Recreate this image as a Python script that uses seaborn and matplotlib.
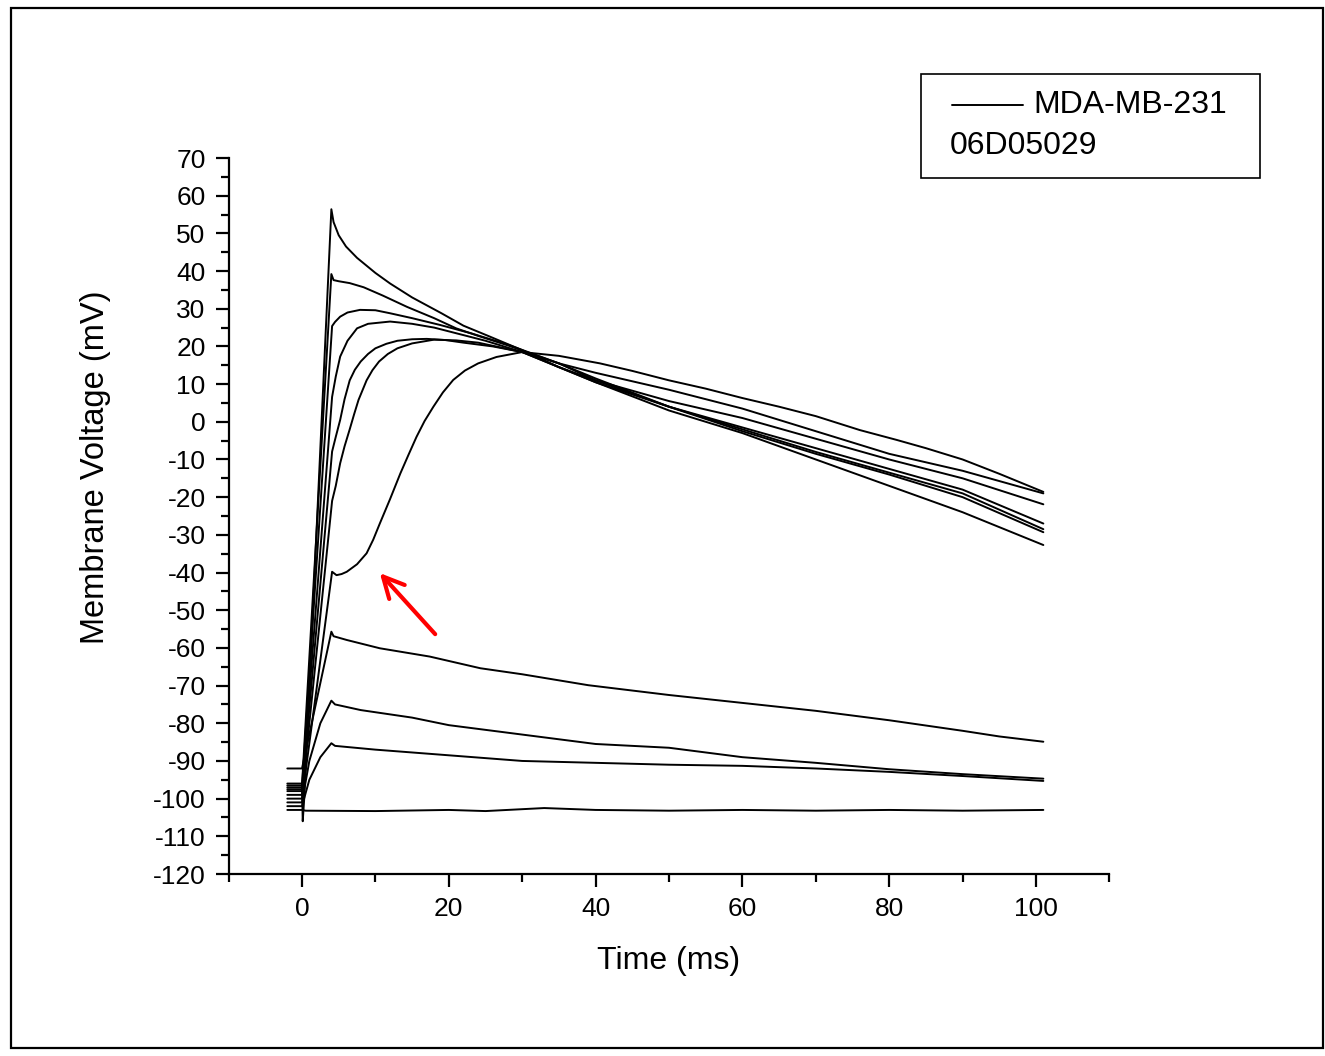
import matplotlib
matplotlib.use('Agg')
import matplotlib.pyplot as plt
from matplotlib.patches import Rectangle
from matplotlib.lines import Line2D
import pandas as pd
import seaborn as sns

# traces (time in ms, membrane voltage in mV)
a_t = [-2, 0, 0.1, 0.3, 4, 4.3, 5, 6, 7.5, 10, 12, 15, 19, 22, 25.6, 30, 35, 40, 50, 60, 70, 80, 90, 101]
a_v = [-96, -96, -106, -100, 56.4, 53, 49.5, 46.5, 43.5, 39.5, 36.7, 33, 28.8, 25.5, 22.6, 19, 14.5, 10.5, 3, -3, -10, -17, -24, -32.7]
b_t = [-2, 0, 4, 4.3, 5, 6.5, 8.4, 11, 14.3, 18, 21, 24, 28, 35, 40, 50, 60, 70, 80, 90, 101]
b_v = [-96.5, -96.5, 39.2, 37.6, 37.3, 36.8, 35.7, 33.5, 30.5, 27.5, 24.8, 22.8, 20.3, 15.5, 11.5, 4, -2.5, -8.5, -14, -20, -29.3]
c_t = [-2, 0, 4.1, 4.5, 5.2, 6.2, 7.9, 10, 12, 15, 18.8, 23, 28, 35, 40, 50, 60, 70, 80, 90, 101]
c_v = [-97, -97, 25.4, 26.5, 27.9, 29, 29.7, 29.6, 28.8, 27.5, 25.7, 23.5, 20.5, 15.5, 11, 4, -2, -8, -13.5, -19, -28.5]
d_t = [-2, 0, 4.1, 4.6, 5.2, 6.2, 7.5, 9, 12, 15, 18, 21, 25, 30, 35, 40, 50, 60, 70, 80, 90, 101]
d_v = [-97.5, -97.5, 6.6, 12, 17.3, 21.5, 24.8, 26, 26.6, 26, 25, 23.5, 21.5, 18.5, 14.5, 10.5, 4, -1.5, -7, -12.5, -18, -27]
e_t = [-2, 0, 4.1, 4.6, 5.2, 5.8, 6.5, 7.2, 8, 9, 10, 11.5, 13, 15, 17, 19.5, 22, 26, 30, 35, 40, 50, 60, 70, 80, 90, 101]
e_v = [-98, -98, -7.9, -4, 0.5, 6, 11, 13.8, 16, 18, 19.5, 20.7, 21.5, 21.9, 22, 21.7, 21, 20, 18.5, 14.5, 11, 5.5, 1, -4.5, -10, -15, -21.9]
f_t = [-2, 0, 4.1, 4.6, 5.2, 5.8, 6.5, 7.1, 7.7, 8.8, 9.6, 10.5, 11.7, 13, 15, 18, 21, 24, 30, 35, 40, 50, 60, 70, 80, 90, 101]
f_v = [-99, -99, -21, -17, -11, -6.5, -2, 2, 5.8, 11, 13.7, 16, 18, 19.5, 20.8, 21.8, 21.6, 21, 18.5, 15.5, 13, 8.5, 3.5, -2.5, -8.5, -13, -19]
g_t = [-2, 0, 4.1, 4.7, 5.4, 6.1, 7.5, 8.8, 9.7, 10.6, 12, 13.4, 14.5, 15.6, 16.7, 17.9, 19.2, 20.6, 22.2, 24, 26.5, 30, 35, 40.6, 45, 50, 55, 60, 65, 70, 76, 81, 85, 90, 95, 101]
g_v = [-100, -100, -39.8, -40.7, -40.4, -39.8, -37.8, -34.9, -31.3, -27, -20.5, -13.7, -8.8, -4, 0.2, 4, 7.8, 11.1, 13.6, 15.5, 17.2, 18.5, 17.5, 15.5, 13.5, 11, 8.8, 6.3, 4, 1.5, -2.2, -4.8, -7, -10, -13.8, -18.6]
h_t = [-2, 0, 4, 4.3, 6.1, 10.6, 17.4, 24.3, 30, 39, 50, 60, 70, 80, 90, 95, 101]
h_v = [-92, -92, -55.7, -56.9, -57.9, -60.1, -62.3, -65.4, -67, -69.9, -72.5, -74.6, -76.7, -79.2, -82, -83.5, -84.9]
i_t = [-2, 0, 1, 2.5, 4, 4.5, 8, 15, 20, 30, 40, 50, 60, 70, 80, 90, 101]
i_v = [-101, -101, -90, -80, -74, -75, -76.5, -78.5, -80.5, -83, -85.5, -86.5, -89, -90.5, -92.2, -93.5, -94.7]
j_t = [-2, 0, 1, 2.5, 4, 4.5, 10, 20, 30, 40, 50, 60, 70, 80, 90, 101]
j_v = [-102, -102, -95, -89, -85.3, -86, -87, -88.5, -90, -90.5, -91, -91.3, -92, -92.9, -94, -95.3]
k_t = [-2, 0, 0.5, 10, 20, 25, 33, 40, 50, 60, 70, 80, 90, 101]
k_v = [-103, -103, -103.2, -103.3, -103, -103.3, -102.5, -103, -103.2, -103, -103.2, -103, -103.2, -103]

traces = {'A': (a_t, a_v), 'B': (b_t, b_v), 'C': (c_t, c_v), 'D': (d_t, d_v),
          'E': (e_t, e_v), 'F': (f_t, f_v), 'G': (g_t, g_v), 'H': (h_t, h_v),
          'I': (i_t, i_v), 'J': (j_t, j_v), 'K': (k_t, k_v)}

rows = []
for name, (ts, vs) in traces.items():
    for t, v in zip(ts, vs):
        rows.append({'trace': name, 'time': t, 'voltage': v})
df = pd.DataFrame(rows)

sns.set_style('ticks')
plt.rcParams['font.family'] = ['Liberation Sans', 'DejaVu Sans']
plt.rcParams['axes.unicode_minus'] = False
for key in ['text.color', 'axes.labelcolor', 'xtick.color', 'ytick.color', 'axes.edgecolor']:
    plt.rcParams[key] = 'black'

fig = plt.figure(figsize=(13.25, 10.56), dpi=100)
ax = fig.add_axes([228.6 / 1325, 1 - 874 / 1056, 880.8 / 1325, 716 / 1056])

sns.lineplot(data=df, x='time', y='voltage', units='trace', estimator=None,
             sort=False, color='black', linewidth=1.4, legend=False, ax=ax)

ax.set_xlim(-10, 110)
ax.set_ylim(-120, 70)
ax.set_xticks([0, 20, 40, 60, 80, 100])
ax.set_xticks(range(-10, 111, 10), minor=True)
ax.set_yticks(range(-120, 71, 10))
ax.set_yticks(range(-115, 70, 10), minor=True)
for side in ['top', 'right']:
    ax.spines[side].set_visible(False)
for side in ['left', 'bottom']:
    ax.spines[side].set_linewidth(1.6)
ax.tick_params(which='major', direction='out', length=9.5, width=1.6, pad=7,
               labelsize=19, colors='black')
ax.tick_params(which='minor', direction='out', length=5.5, width=1.6)

ax.set_xlabel('Time (ms)', fontsize=23)
ax.set_ylabel('Membrane Voltage (mV)', fontsize=23.5)
ax.xaxis.set_label_coords(0.5, -0.1)
ax.yaxis.set_label_coords(-0.133, 0.568)

# red arrow pointing at the slow-rising trace
ax.annotate('', xy=(10.35, -39.6), xytext=(18.4, -56.9),
            arrowprops=dict(arrowstyle='->,head_length=0.6,head_width=0.3',
                            color='red', lw=3, mutation_scale=25))

# legend box, Origin style
def fx(px):
    return px / 1325

def fy(py):
    return 1 - py / 1056

fig.add_artist(Rectangle((fx(921), fy(178)), fx(1260) - fx(921), fy(74) - fy(178),
                         transform=fig.transFigure, fill=False, edgecolor='black', lw=1.2))
fig.add_artist(Line2D([fx(952), fx(1023)], [fy(105), fy(105)],
                      transform=fig.transFigure, color='black', lw=1.4))
fig.text(fx(1033), fy(105), 'MDA-MB-231', fontsize=23, va='center', ha='left')
fig.text(fx(950), fy(146), '06D05029', fontsize=23, va='center', ha='left')

# outer frame around the whole graph page
fig.add_artist(Rectangle((fx(11), fy(1048)), fx(1323) - fx(11), fy(8) - fy(1048),
                         transform=fig.transFigure, fill=False, edgecolor='black', lw=1.6))

fig.savefig('out.png', dpi=100)
